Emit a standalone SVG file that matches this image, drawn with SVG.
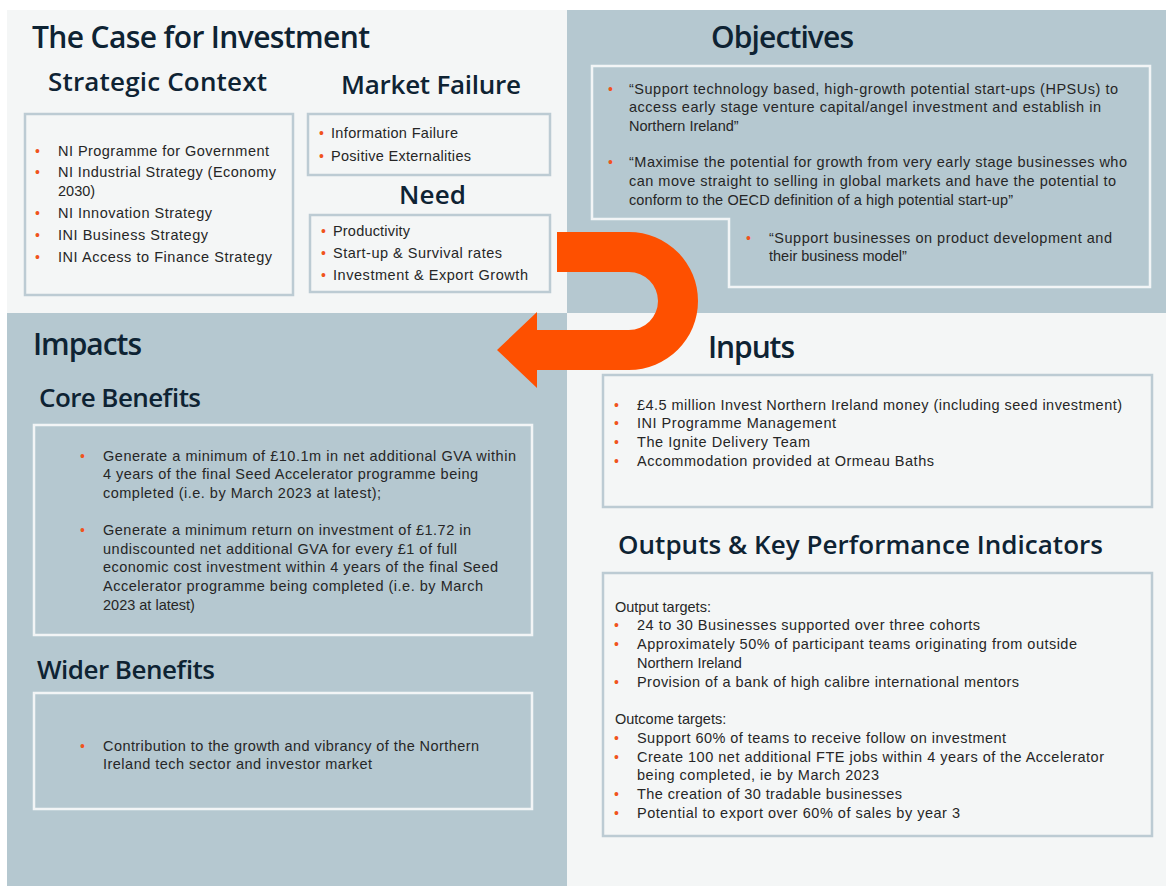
<svg xmlns="http://www.w3.org/2000/svg" width="1166" height="891" viewBox="0 0 1166 891">
<style>
.bg{fill:#ffffff}
.light{fill:#f4f6f6}
.gray{fill:#b5c8d0}
.boxL{fill:none;stroke:#bccbd3;stroke-width:2.5}
.boxW{fill:none;stroke:#f2f5f6;stroke-width:2.5}
.h1{font-family:"Open Sans","Noto Sans",sans-serif;font-weight:600;font-size:30px;fill:#0e2333}
.h2{font-family:"Open Sans","Noto Sans",sans-serif;font-weight:600;font-size:26px;fill:#0e2333}
.t{font-family:"Liberation Sans",Arial,sans-serif;font-size:14.5px;fill:#262626}
.b{font-family:"Liberation Sans",Arial,sans-serif;font-size:14px;fill:#f0531c}
.arrow{fill:#fe5000}
</style>
<rect class="bg" x="0" y="0" width="1166" height="891"/>
<rect class="light" x="7" y="10" width="560" height="303"/>
<rect class="gray" x="567" y="10" width="599" height="303"/>
<rect class="gray" x="7" y="313" width="560" height="573"/>
<rect class="light" x="567" y="313" width="599" height="573"/>

<g id="case-for-investment">
<text class="h1" x="32" y="48" textLength="338">The Case for Investment</text>
</g>

<g id="strategic-context">
<text class="h2" x="48" y="91" textLength="219">Strategic Context</text>
<rect class="boxL" x="25" y="114" width="268" height="181"/>
<text class="b" x="35" y="156">•</text><text class="t" x="58" y="156" textLength="211">NI Programme for Government</text>
<text class="b" x="35" y="177">•</text><text class="t" x="58" y="177" textLength="218">NI Industrial Strategy (Economy</text>
<text class="t" x="58" y="196">2030)</text>
<text class="b" x="35" y="218">•</text><text class="t" x="58" y="218" textLength="154">NI Innovation Strategy</text>
<text class="b" x="35" y="240">•</text><text class="t" x="58" y="240" textLength="150">INI Business Strategy</text>
<text class="b" x="35" y="262">•</text><text class="t" x="58" y="262" textLength="214">INI Access to Finance Strategy</text>
</g>

<g id="market-failure">
<text class="h2" x="341" y="94" textLength="180">Market Failure</text>
<rect class="boxL" x="308" y="114" width="242" height="61"/>
<text class="b" x="319" y="138">•</text><text class="t" x="331" y="138" textLength="127">Information Failure</text>
<text class="b" x="319" y="161">•</text><text class="t" x="331" y="161" textLength="140">Positive Externalities</text>
</g>

<g id="need">
<text class="h2" x="399" y="204" textLength="67">Need</text>
<rect class="boxL" x="310" y="215" width="240" height="77"/>
<text class="b" x="321" y="236">•</text><text class="t" x="333" y="236" textLength="77">Productivity</text>
<text class="b" x="321" y="258">•</text><text class="t" x="333" y="258" textLength="169">Start-up &amp; Survival rates</text>
<text class="b" x="321" y="280">•</text><text class="t" x="333" y="280" textLength="195">Investment &amp; Export Growth</text>
</g>

<g id="objectives">
<text class="h1" x="711" y="48" textLength="143">Objectives</text>
<path class="boxW" d="M592,66 H1150 V287 H729 V219 H592 Z" stroke-width="3"/>
<text class="b" x="608" y="94">•</text><text class="t" x="629" y="94" textLength="489">“Support technology based, high-growth potential start-ups (HPSUs) to</text>
<text class="t" x="629" y="112" textLength="472">access early stage venture capital/angel investment and establish in</text>
<text class="t" x="629" y="131">Northern Ireland”</text>
<text class="b" x="608" y="167">•</text><text class="t" x="629" y="167" textLength="498">“Maximise the potential for growth from very early stage businesses who</text>
<text class="t" x="629" y="186" textLength="487">can move straight to selling in global markets and have the potential to</text>
<text class="t" x="629" y="205" textLength="384">conform to the OECD definition of a high potential start-up”</text>
<text class="b" x="746" y="243">•</text><text class="t" x="769" y="243" textLength="343">“Support businesses on product development and</text>
<text class="t" x="769" y="261">their business model”</text>
</g>

<g id="impacts">
<text class="h1" x="33" y="355" textLength="109">Impacts</text>
</g>

<g id="core-benefits">
<text class="h2" x="39" y="407" textLength="162">Core Benefits</text>
<rect class="boxW" x="34" y="425" width="498" height="210"/>
<text class="b" x="80" y="461">•</text><text class="t" x="103" y="461" textLength="413">Generate a minimum of £10.1m in net additional GVA within</text>
<text class="t" x="103" y="479" textLength="375">4 years of the final Seed Accelerator programme being</text>
<text class="t" x="103" y="498" textLength="278">completed (i.e. by March 2023 at latest);</text>
<text class="b" x="80" y="535">•</text><text class="t" x="103" y="535" textLength="368">Generate a minimum return on investment of £1.72 in</text>
<text class="t" x="103" y="554" textLength="354">undiscounted net additional GVA for every £1 of full</text>
<text class="t" x="103" y="572" textLength="395">economic cost investment within 4 years of the final Seed</text>
<text class="t" x="103" y="591" textLength="380">Accelerator programme being completed (i.e. by March</text>
<text class="t" x="103" y="610">2023 at latest)</text>
</g>

<g id="wider-benefits">
<text class="h2" x="37" y="679" textLength="178">Wider Benefits</text>
<rect class="boxW" x="34" y="693" width="498" height="116"/>
<text class="b" x="80" y="751">•</text><text class="t" x="103" y="751" textLength="376">Contribution to the growth and vibrancy of the Northern</text>
<text class="t" x="103" y="769" textLength="269">Ireland tech sector and investor market</text>
</g>

<g id="inputs">
<text class="h1" x="708" y="358" textLength="87">Inputs</text>
<rect class="boxL" x="603" y="375" width="549" height="132"/>
<text class="b" x="614" y="410">•</text><text class="t" x="637" y="410" textLength="485">£4.5 million Invest Northern Ireland money (including seed investment)</text>
<text class="b" x="614" y="428">•</text><text class="t" x="637" y="428" textLength="199">INI Programme Management</text>
<text class="b" x="614" y="447">•</text><text class="t" x="637" y="447" textLength="173">The Ignite Delivery Team</text>
<text class="b" x="614" y="466">•</text><text class="t" x="637" y="466" textLength="297">Accommodation provided at Ormeau Baths</text>
</g>

<g id="outputs-kpis">
<text class="h2" x="618" y="554" textLength="485">Outputs &amp; Key Performance Indicators</text>
<rect class="boxL" x="603" y="573" width="549" height="263"/>
<text class="t" x="615" y="612">Output targets:</text>
<text class="b" x="614" y="630">•</text><text class="t" x="637" y="630" textLength="343">24 to 30 Businesses supported over three cohorts</text>
<text class="b" x="614" y="649">•</text><text class="t" x="637" y="649" textLength="440">Approximately 50% of participant teams originating from outside</text>
<text class="t" x="637" y="668">Northern Ireland</text>
<text class="b" x="614" y="687">•</text><text class="t" x="637" y="687" textLength="382">Provision of a bank of high calibre international mentors</text>
<text class="t" x="615" y="724">Outcome targets:</text>
<text class="b" x="614" y="743">•</text><text class="t" x="637" y="743" textLength="369">Support 60% of teams to receive follow on investment</text>
<text class="b" x="614" y="762">•</text><text class="t" x="637" y="762" textLength="467">Create 100 net additional FTE jobs within 4 years of the Accelerator</text>
<text class="t" x="637" y="780" textLength="242">being completed, ie by March 2023</text>
<text class="b" x="614" y="799">•</text><text class="t" x="637" y="799" textLength="265">The creation of 30 tradable businesses</text>
<text class="b" x="614" y="818">•</text><text class="t" x="637" y="818" textLength="323">Potential to export over 60% of sales by year 3</text>
</g>

<g id="connectors">
<path class="arrow" d="M557,232 H629 A69,69 0 0 1 629,370 H537 V388 L497,350 L537,312 V330 H629 A29,29 0 0 0 629,272 H557 Z"/>
</g>
</svg>
